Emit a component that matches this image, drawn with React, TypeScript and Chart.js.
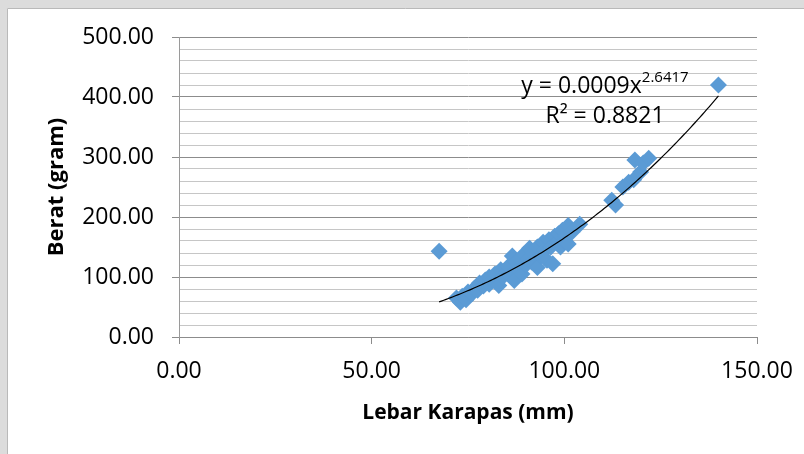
import React, { useEffect, useRef } from 'react';
import { Chart, registerables } from 'chart.js';

Chart.register(...registerables);

// Lebar Karapas (mm)
const X_VALUES = [
  67.5, 140.0,
  72.0, 73.0, 73.5, 74.5, 75.0, 76.0, 76.5, 77.5, 78.0, 79.0,
  79.5, 80.5, 80.5, 81.5, 82.0, 83.0, 83.5, 84.0, 85.0, 85.5,
  86.0, 86.5, 87.0, 87.5, 88.0, 88.5, 89.0, 89.5, 90.0, 90.5,
  91.0, 91.5, 92.0, 93.0, 93.0, 94.0, 94.5, 95.0, 95.5, 96.0,
  96.5, 97.0, 97.5, 98.0, 98.5, 99.0, 99.5, 100.0, 100.5, 101.0,
  101.0, 102.0, 104.0,
  112.3, 113.3, 115.2, 116.7, 118.0, 118.3, 119.8, 120.5, 121.9,
];
// Berat (gram)
const Y_VALUES = [
  143, 420,
  65, 58, 68, 62, 75, 72, 80, 78, 90, 85,
  95, 88, 100, 96, 105, 86, 112, 100, 108, 118,
  102, 135, 94, 125, 112, 130, 105, 138, 120, 130,
  148, 125, 140, 116, 150, 135, 158, 145, 128, 162,
  150, 122, 168, 158, 172, 150, 178, 160, 168, 155,
  186, 175, 188,
  228, 220, 250, 258, 262, 295, 275, 290, 298,
];

const X_TICK_STEP = 50;
const Y_MAJOR_STEP = 100;
const Y_MINOR_STEP = 20;

// Power trendline (Excel): y = a * x^b
const TREND_COEF = 0.00086;
const TREND_EXP = 2.6417;
const EQ_MAIN = 'y = 0.0009x';
const EQ_SUP = '2.6417';
const EQ_R2 = 'R² = 0.8821';

const X_TITLE = 'Lebar Karapas (mm)';
const Y_TITLE = 'Berat (gram)';

const FONT = '"Open Sans", "Noto Sans", sans-serif';
const MARKER = '#5B9BD5';

function trendPoints() {
  const lo = Math.min(...X_VALUES);
  const hi = Math.max(...X_VALUES);
  const pts: { x: number; y: number }[] = [];
  const n = 120;
  for (let i = 0; i <= n; i++) {
    const x = lo + ((hi - lo) * i) / n;
    pts.push({ x, y: TREND_COEF * Math.pow(x, TREND_EXP) });
  }
  return pts;
}

const bgPlugin = {
  id: 'bgFrame',
  beforeDraw(chart: any) {
    const { ctx, width, height } = chart;
    ctx.save();
    ctx.fillStyle = '#dcdcdc';
    ctx.fillRect(0, 0, width, height);
    ctx.fillStyle = '#ffffff';
    ctx.fillRect(7, 8, width - 7, height - 8);
    ctx.strokeStyle = '#b9b9b9';
    ctx.lineWidth = 1;
    ctx.beginPath();
    ctx.moveTo(7.5, height);
    ctx.lineTo(7.5, 8.5);
    ctx.lineTo(width, 8.5);
    ctx.stroke();
    ctx.restore();
  },
};

const eqPlugin = {
  id: 'eqLabel',
  afterDatasetsDraw(chart: any) {
    const { ctx, chartArea } = chart;
    const cx = chartArea.left + (chartArea.right - chartArea.left) * 0.737;
    const base1 = chartArea.top + 56;
    const base2 = chartArea.top + 86;
    ctx.save();
    ctx.fillStyle = '#000000';
    ctx.textBaseline = 'alphabetic';
    ctx.textAlign = 'left';
    ctx.font = `23px ${FONT}`;
    const mainW = ctx.measureText(EQ_MAIN).width;
    ctx.font = `15px ${FONT}`;
    const supW = ctx.measureText(EQ_SUP).width;
    const start1 = cx - (mainW + supW) / 2;
    ctx.font = `23px ${FONT}`;
    ctx.fillText(EQ_MAIN, start1, base1);
    ctx.font = `15px ${FONT}`;
    ctx.fillText(EQ_SUP, start1 + mainW, base1 - 11);
    ctx.font = `23px ${FONT}`;
    const r2W = ctx.measureText(EQ_R2).width;
    ctx.fillText(EQ_R2, cx - r2W / 2, base2);
    ctx.restore();
  },
};

export default function App() {
  const ref = useRef<HTMLCanvasElement | null>(null);

  useEffect(() => {
    if (!ref.current) return;
    const points = X_VALUES.map((x, i) => ({ x, y: Y_VALUES[i] }));
    const chart = new Chart(ref.current, {
      type: 'scatter',
      data: {
        datasets: [
          {
            type: 'line',
            label: 'Trendline',
            data: trendPoints(),
            borderColor: '#000000',
            borderWidth: 1.2,
            pointRadius: 0,
            fill: false,
            tension: 0,
          } as any,
          {
            label: 'Berat',
            data: points,
            pointStyle: 'rectRot',
            pointRadius: 8.5,
            pointHoverRadius: 8.5,
            backgroundColor: MARKER,
            borderColor: MARKER,
            borderWidth: 0,
          },
        ],
      },
      options: {
        responsive: false,
        devicePixelRatio: 1,
        animation: false,
        events: [],
        layout: { padding: { left: 0, top: 37, right: 47, bottom: 0 } },
        plugins: {
          legend: { display: false },
          tooltip: { enabled: false },
        },
        scales: {
          x: {
            type: 'linear',
            position: 'bottom',
            min: 0,
            max: 150,
            afterFit: (s: any) => {
              s.height = 117;
              s.paddingLeft = 0;
              s.paddingRight = 0;
            },
            ticks: {
              stepSize: X_TICK_STEP,
              autoSkip: false,
              maxRotation: 0,
              padding: 14,
              color: '#000000',
              font: { family: FONT, size: 23 },
              callback: (v: any) => Number(v).toFixed(2),
            },
            grid: {
              drawOnChartArea: false,
              drawTicks: true,
              tickLength: 7,
              tickColor: '#8c8c8c',
            },
            border: { color: '#8c8c8c', width: 1 },
            title: {
              display: true,
              text: X_TITLE,
              color: '#000000',
              font: { family: FONT, size: 21, weight: 'bold' },
              padding: { top: 0, bottom: 28 },
            },
          },
          y: {
            type: 'linear',
            min: 0,
            max: 500,
            afterFit: (s: any) => {
              s.width = 179;
            },
            ticks: {
              stepSize: Y_MINOR_STEP,
              autoSkip: false,
              padding: 18,
              color: '#000000',
              font: { family: FONT, size: 23 },
              callback: (v: any) =>
                Number(v) % Y_MAJOR_STEP === 0 ? Number(v).toFixed(2) : '',
            },
            grid: {
              color: (c: any) =>
                c.tick && c.tick.value % Y_MAJOR_STEP === 0 ? '#8c8c8c' : '#c6c6c6',
              tickColor: (c: any) =>
                c.tick && c.tick.value % Y_MAJOR_STEP === 0 ? '#8c8c8c' : 'rgba(0,0,0,0)',
              tickLength: 7,
              lineWidth: 1,
            },
            border: { color: '#9a9a9a', width: 1 },
            title: {
              display: true,
              text: Y_TITLE,
              color: '#000000',
              font: { family: FONT, size: 22, weight: 'bold' },
              padding: { top: 44, bottom: 0 },
            },
          },
        },
      },
      plugins: [bgPlugin, eqPlugin],
    } as any);
    return () => chart.destroy();
  }, []);

  return (
    <div style={{ position: 'fixed', left: 0, top: 0, width: 804, height: 454 }}>
      <canvas ref={ref} width={804} height={454} style={{ display: 'block' }} />
    </div>
  );
}
